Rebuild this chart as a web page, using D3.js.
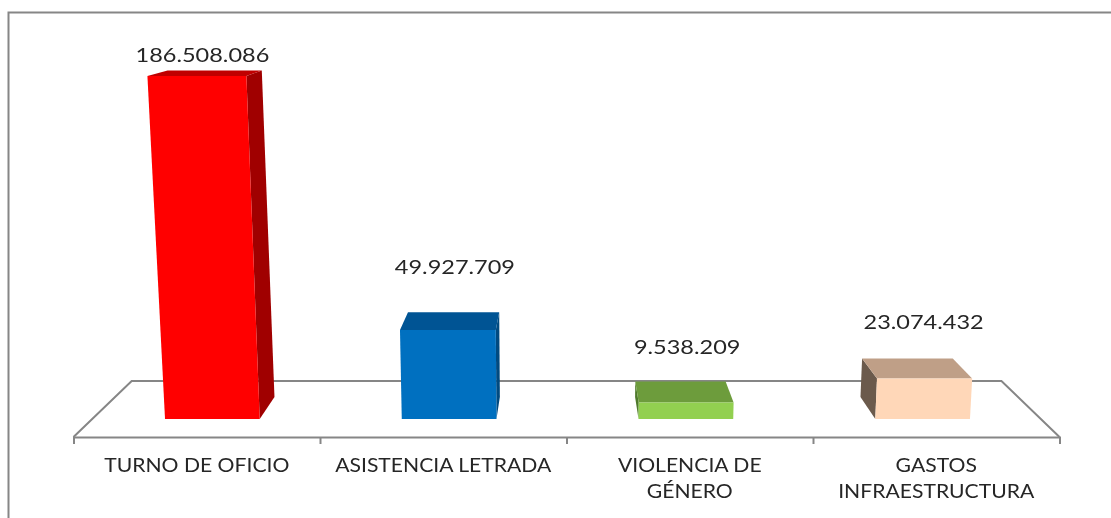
<!DOCTYPE html>
<html>
<head>
<meta charset="utf-8">
<script src="https://cdn.jsdelivr.net/npm/d3@7"></script>
<style>
  html, body { margin: 0; background: #fff; }
  svg { display: block; filter: blur(0.35px); }
  text { font-family: Lato, "Open Sans", sans-serif; fill: #262626; }
</style>
</head>
<body>
<svg id="chart" width="1111" height="518"></svg>
<script>
// data
const categories = ["TURNO DE OFICIO", "ASISTENCIA LETRADA", "VIOLENCIA DE GÉNERO", "GASTOS INFRAESTRUCTURA"];
const categoryLines = [["TURNO DE OFICIO"], ["ASISTENCIA LETRADA"], ["VIOLENCIA DE", "GÉNERO"], ["GASTOS", "INFRAESTRUCTURA"]];
const values = [186508086, 49927709, 9538209, 23074432];
const valueLabels = ["186.508.086", "49.927.709", "9.538.209", "23.074.432"];

// colours per bar: front, top, side
const frontColors = ["#ff0000", "#0070c0", "#92d050", "#ffd7b8"];
const topColors = ["#c00000", "#005494", "#6d9c3c", "#bf9f87"];
const sideColors = ["#a00000", "#004a80", "#4f7a2c", "#6b5a4c"];

// value labels were placed by hand in the original
const labelGaps = [8.5, 38, 27, 30];
const labelShifts = [5.5, 7, 1, -1];

const svg = d3.select("#chart");

const floorY = 419, axisY = 437, backY = 381;

// perspective of the original 3D chart
const vpX = 567, vpY = -38, depth = 0.048, lean = 7600;

const xBar = d3.scaleBand()
    .domain(categories)
    .range([94, 1041])
    .paddingInner(0.6)
    .paddingOuter(0.3);

// the 3D view stretches tall bars a little, hence not quite linear
const yBar = d3.scalePow()
    .exponent(1.023)
    .domain([0, d3.max(values)])
    .range([floorY, 76]);

const xAxisScale = d3.scaleLinear().domain([0, categories.length]).range([73.5, 1059.5]);
const xLabel = d3.scaleBand().domain(categories).range([73.5, 1059.5]);

// front plane point, vertical edges lean away from the centre going up
function front(x, y) {
  return [x + (vpX - 12 - x) * -(floorY - y) / lean, y];
}
// same point pushed back to the rear of the bar
function back(p) {
  return [p[0] + (vpX - p[0]) * depth, p[1] + (vpY - p[1]) * depth];
}

// outer frame
svg.append("path")
    .attr("d", "M8.5,518V12.5H1111")
    .attr("fill", "none")
    .attr("stroke", "#868686")
    .attr("stroke-width", 2);

// floor
const floorBack = (axisY - backY) / (axisY - vpY);
svg.append("path")
    .attr("d", d3.line()([
      [xAxisScale.range()[0], axisY],
      [xAxisScale.range()[0] + (vpX - xAxisScale.range()[0]) * floorBack, backY],
      [xAxisScale.range()[1] + (vpX - xAxisScale.range()[1]) * floorBack, backY],
      [xAxisScale.range()[1], axisY]
    ]))
    .attr("fill", "none")
    .attr("stroke", "#868686")
    .attr("stroke-width", 2);

const xAxis = d3.axisBottom(xAxisScale)
    .ticks(categories.length)
    .tickFormat("")
    .tickSize(7)
    .tickSizeOuter(7);

svg.append("g")
    .attr("transform", `translate(0,${axisY})`)
    .call(xAxis)
    .call(g => g.selectAll("path, line").attr("stroke", "#868686").attr("stroke-width", 2));

// bars
const rows = categories.map((c, i) => ({c, i, v: values[i]}));

const bars = svg.selectAll(".bar")
    .data(rows)
    .join("g")
    .attr("class", "bar");

function poly(points) {
  return d3.line()(points) + "Z";
}

bars.each(function(d) {
  const g = d3.select(this);
  const x0 = xBar(d.c), x1 = x0 + xBar.bandwidth();
  const top = yBar(d.v);
  const bl = front(x0, floorY), br = front(x1, floorY);
  const tl = front(x0, top), tr = front(x1, top);

  // side wall, whichever side faces the centre of the chart
  const sideBottom = x1 < vpX - 30 ? br : bl;
  const sideTop = x1 < vpX - 30 ? tr : tl;
  g.append("path")
      .attr("d", poly([sideBottom, back(sideBottom), back(sideTop), sideTop]))
      .attr("fill", sideColors[d.i]);

  g.append("path")
      .attr("d", poly([tl, tr, back(tr), back(tl)]))
      .attr("fill", topColors[d.i]);

  g.append("path")
      .attr("d", poly([bl, br, tr, tl]))
      .attr("fill", frontColors[d.i]);

  const lx = (tl[0] + tr[0]) / 2 + labelShifts[d.i];
  const ly = back(tl)[1] - labelGaps[d.i];
  g.append("text")
      .attr("class", "value")
      .attr("transform", `translate(${lx},${ly}) scale(1.175,1)`)
      .attr("text-anchor", "middle")
      .attr("font-size", 20)
      .text(valueLabels[d.i]);
});

// category labels
categoryLines.forEach((lines, i) => {
  const cx = xLabel(categories[i]) + xLabel.bandwidth() / 2;
  lines.forEach((line, j) => {
    svg.append("text")
        .attr("transform", `translate(${cx},${472 + j * 26}) scale(1.113,1)`)
        .attr("text-anchor", "middle")
        .attr("font-size", 19)
        .text(line);
  });
});
</script>
</body>
</html>
